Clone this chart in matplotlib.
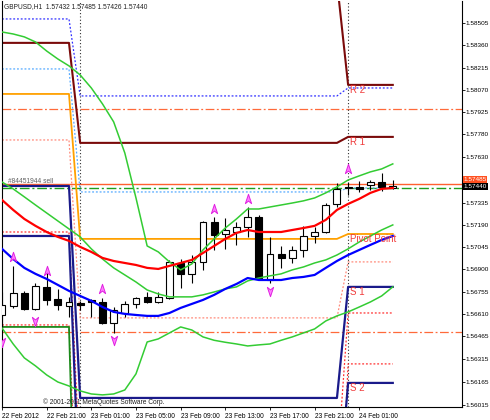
import matplotlib
matplotlib.use('Agg')
import matplotlib.pyplot as plt
from matplotlib.path import Path
import matplotlib.transforms as mtransforms

plt.rcParams['font.family'] = ['Liberation Sans', 'DejaVu Sans']

# bars: hours from 23 Feb 00:00 (H1 GBPUSD)
hours = list(range(-7, 29))
opens = [1.56602, 1.56661, 1.56746, 1.56641, 1.56785, 1.56707, 1.56661, 1.56680,
         1.56700, 1.56687, 1.56550, 1.56615, 1.56674, 1.56720, 1.56687, 1.56713,
         1.56941, 1.56870, 1.56948, 1.57209, 1.57130, 1.57143, 1.57176, 1.57241,
         1.56830, 1.57000, 1.56974, 1.57026, 1.57117, 1.57143, 1.57326, 1.57437,
         1.57437, 1.57450, 1.57469, 1.57432]
highs = [1.56752, 1.56922, 1.56759, 1.56811, 1.56876, 1.56772, 1.56720, 1.56694,
         1.56707, 1.56713, 1.56654, 1.56694, 1.56720, 1.56752, 1.56752, 1.56961,
         1.56967, 1.56993, 1.57215, 1.57241, 1.57235, 1.57209, 1.57306, 1.57254,
         1.57111, 1.57052, 1.57052, 1.57183, 1.57176, 1.57332, 1.57463, 1.57469,
         1.57476, 1.57482, 1.57528, 1.57485]
lows = [1.56485, 1.56648, 1.56635, 1.56635, 1.56667, 1.56635, 1.56589, 1.56635,
        1.56589, 1.56544, 1.56485, 1.56589, 1.56648, 1.56680, 1.56680, 1.56707,
        1.56778, 1.56811, 1.56896, 1.57026, 1.57033, 1.57059, 1.57111, 1.56830,
        1.56811, 1.56909, 1.56941, 1.56980, 1.57072, 1.57137, 1.57306, 1.57385,
        1.57404, 1.57417, 1.57411, 1.57426]
closes = [1.56667, 1.56746, 1.56641, 1.56791, 1.56700, 1.56667, 1.56687, 1.56667,
          1.56687, 1.56550, 1.56635, 1.56674, 1.56713, 1.56687, 1.56720, 1.56948,
          1.56870, 1.56948, 1.57209, 1.57124, 1.57156, 1.57176, 1.57241, 1.56843,
          1.57000, 1.56974, 1.57026, 1.57117, 1.57143, 1.57319, 1.57424, 1.57432,
          1.57424, 1.57469, 1.57437, 1.57440]

# moving averages and bollinger bands
ma_red = [1.57352, 1.57287, 1.57228, 1.57183, 1.57143, 1.57111, 1.57085, 1.57046,
          1.57013, 1.56974, 1.56954, 1.56941, 1.56928, 1.56909, 1.56902, 1.56922,
          1.56941, 1.56961, 1.57006, 1.57052, 1.57098, 1.57137, 1.57156, 1.57143,
          1.57143, 1.57143, 1.57156, 1.57169, 1.57183, 1.57222, 1.57287, 1.57326,
          1.57359, 1.57398, 1.57424, 1.57430]
ma_blue = [1.57033, 1.56967, 1.56909, 1.56870, 1.56837, 1.56798, 1.56759, 1.56726,
           1.56694, 1.56654, 1.56622, 1.56609, 1.56602, 1.56596, 1.56596, 1.56615,
           1.56648, 1.56674, 1.56700, 1.56733, 1.56772, 1.56804, 1.56843, 1.56830,
           1.56830, 1.56830, 1.56843, 1.56850, 1.56863, 1.56909, 1.56954, 1.56993,
           1.57026, 1.57059, 1.57091, 1.57117]
bb_upper = [1.58447, 1.58434, 1.58415, 1.58382, 1.58323, 1.58271, 1.58226, 1.58167,
            1.58082, 1.57978, 1.57861, 1.57658, 1.57365, 1.57052, 1.57013, 1.56948,
            1.56896, 1.56935, 1.57026, 1.57098, 1.57169, 1.57228, 1.57293, 1.57293,
            1.57306, 1.57319, 1.57332, 1.57346, 1.57365, 1.57398, 1.57437, 1.57482,
            1.57509, 1.57535, 1.57554, 1.57587]
bb_mid = [1.57469, 1.57424, 1.57372, 1.57319, 1.57267, 1.57215, 1.57163, 1.57111,
          1.57033, 1.56967, 1.56909, 1.56863, 1.56817, 1.56765, 1.56739, 1.56720,
          1.56720, 1.56720, 1.56733, 1.56752, 1.56772, 1.56785, 1.56824, 1.56843,
          1.56857, 1.56870, 1.56896, 1.56915, 1.56941, 1.56961, 1.56993, 1.57033,
          1.57078, 1.57117, 1.57156, 1.57189]
bb_lower = [1.56517, 1.56413, 1.56322, 1.56270, 1.56211, 1.56165, 1.56139, 1.56107,
            1.56087, 1.56081, 1.56087, 1.56113, 1.56218, 1.56426, 1.56446, 1.56485,
            1.56524, 1.56504, 1.56459, 1.56437, 1.56424, 1.56413, 1.56400, 1.56407,
            1.56413, 1.56437, 1.56459, 1.56485, 1.56511, 1.56563, 1.56596, 1.56622,
            1.56654, 1.56687, 1.56726, 1.56785]

# daily pivot levels: 22 Feb, 23 Feb, 24 Feb
day_of_bar = [0] * 7 + [1] * 24 + [2] * 5
r2_lv = [1.59178, 1.58775, 1.58102]
r1_lv = [1.58376, 1.57724, 1.57763]
pp_lv = [1.58043, 1.57098, 1.57130]
s1_lv = [1.57443, 1.56061, 1.56785]
s2_lv = [1.57117, 1.55300, 1.56159]
s3_lv = [1.56524, 1.54000, 1.55000]
m_blue_lv = [1.58532, 1.58030, 1.58082]
m_lblue_lv = [1.58206, 1.57404, 1.57430]
m_salmon_lv = [1.57743, 1.56583, 1.56948]
m_red1_lv = [1.57143, 1.55592, 1.56615]
m_red2_lv = [1.56537, 1.54744, 1.56283]

# full width lines
dashdot_lines = [1.57945, 1.56491]
order_price = 1.57427
high_line = 1.57456

# fractals
frac_up_h = [-6, -3, 2, 12, 15, 24]
frac_up_p = [1.56980, 1.56889, 1.56772, 1.57293, 1.57359, 1.57554]
frac_dn_h = [-7, -4, 3, 17]
frac_dn_p = [1.56426, 1.56563, 1.56437, 1.56759]

yticks = [1.58505, 1.58360, 1.58215, 1.58070, 1.57925, 1.57780, 1.57630, 1.57335,
          1.57190, 1.57045, 1.56900, 1.56755, 1.56610, 1.56465, 1.56315, 1.56165,
          1.56015]
xtick_h = [-7, -3, 1, 5, 9, 13, 17, 21, 25]
xtick_lab = ['22 Feb 2012', '22 Feb 21:00', '23 Feb 01:00', '23 Feb 05:00', '23 Feb 09:00',
             '23 Feb 13:00', '23 Feb 17:00', '23 Feb 21:00', '24 Feb 01:00']


def per_bar(levels):
    return [levels[d] for d in day_of_bar]


fig = plt.figure(figsize=(4.9, 4.2), dpi=100)
ax = fig.add_axes([2 / 490, 13 / 420, 460 / 490, 406 / 420])
ax.set_xlim(-6.98, 34.2)
ax.set_ylim(1.56002, 1.58649)

# full width horizontal lines
for p in dashdot_lines:
    ax.axhline(p, color='#FF6A3A', lw=0.9, ls=(0, (7, 2, 1.5, 2)), zorder=1)
ax.axhline(high_line, color='#FF6030', lw=1.0, zorder=1)
ax.axhline(order_price, color='#1E9E1E', lw=1.0, ls=(0, (7, 2, 1.5, 2)), zorder=1)

# day separators
for d in [0, 24]:
    ax.axvline(d, color='#303030', lw=0.8, ls=(0, (1, 2)), zorder=1)

# pivots
dot = (0, (1.5, 1.5))
ax.plot(hours, per_bar(m_blue_lv), color='#3030FF', lw=0.9, ls=dot, zorder=2)
ax.plot(hours, per_bar(m_lblue_lv), color='#55AAFF', lw=0.9, ls=dot, zorder=2)
ax.plot(hours, per_bar(m_salmon_lv), color='#FF8A7A', lw=0.9, ls=dot, zorder=2)
ax.plot(hours, per_bar(m_red1_lv), color='#FF3030', lw=0.9, ls=dot, zorder=2)
ax.plot(hours, per_bar(m_red2_lv), color='#FF3030', lw=0.9, ls=dot, zorder=2)
ax.plot(hours, per_bar(r2_lv), color='#7A0A0A', lw=1.5, zorder=2)
ax.plot(hours, per_bar(r1_lv), color='#7A0A0A', lw=1.5, zorder=2)
ax.plot(hours, per_bar(pp_lv), color='#FFA000', lw=1.3, zorder=2)
ax.plot(hours, per_bar(s1_lv), color='#1A1A8A', lw=1.6, zorder=2)
ax.plot(hours, per_bar(s2_lv), color='#1A1A8A', lw=1.6, zorder=2)
ax.plot(hours, per_bar(s3_lv), color='#1A8A1A', lw=1.3, zorder=2)

lab_kw = dict(color='#F03C3C', fontsize=7, va='top', ha='left', zorder=6)
ax.text(24.2, r2_lv[2], 'R 2', **lab_kw)
ax.text(24.2, r1_lv[2], 'R 1', **lab_kw)
ax.text(24.2, pp_lv[2], 'Pivot Point', **lab_kw)
ax.text(24.2, s1_lv[2], 'S 1', **lab_kw)
ax.text(24.2, s2_lv[2], 'S 2', **lab_kw)

# candles
for h, o, hi, lo, c in zip(hours, opens, highs, lows, closes):
    ax.vlines(h, lo, hi, color='black', lw=0.8, zorder=3)
    fc = 'white' if c >= o else 'black'
    ax.bar(h, max(abs(c - o), 0.00004), bottom=min(o, c), width=0.62,
           facecolor=fc, edgecolor='black', lw=0.8, zorder=3)

# indicators
ax.plot(hours, bb_upper, color='#33CC33', lw=1.1, zorder=4)
ax.plot(hours, bb_mid, color='#33CC33', lw=1.1, zorder=4)
ax.plot(hours, bb_lower, color='#33CC33', lw=1.1, zorder=4)
ax.plot(hours, ma_red, color='#FF0000', lw=1.6, zorder=4)
ax.plot(hours, ma_blue, color='#0000FF', lw=1.6, zorder=4)

up_arrow = Path([(0, 1), (-0.6, -0.8), (0, -0.3), (0.6, -0.8), (0, 1)],
                [Path.MOVETO, Path.LINETO, Path.LINETO, Path.LINETO, Path.CLOSEPOLY])
dn_arrow = Path([(0, -1), (-0.6, 0.8), (0, 0.3), (0.6, 0.8), (0, -1)],
                [Path.MOVETO, Path.LINETO, Path.LINETO, Path.LINETO, Path.CLOSEPOLY])
ax.plot(frac_up_h, frac_up_p, ls='none', marker=up_arrow, ms=7.5,
        mfc='#FF80FF', mec='#E020E0', mew=0.7, zorder=5)
ax.plot(frac_dn_h, frac_dn_p, ls='none', marker=dn_arrow, ms=7.5,
        mfc='#FF80FF', mec='#E020E0', mew=0.7, zorder=5)

# axes
for s in ['left', 'right', 'bottom']:
    ax.spines[s].set_color('black')
    ax.spines[s].set_linewidth(0.8)
ax.spines['top'].set_visible(False)
ax.yaxis.tick_right()
ax.set_yticks(yticks)
ax.set_yticklabels(['%.5f' % v for v in yticks])
ax.tick_params(axis='y', length=2, width=0.6, pad=0.6, labelsize=4.6)
ax.set_xticks(xtick_h)
ax.set_xticklabels(xtick_lab, ha='left')
ax.tick_params(axis='x', length=2.5, width=0.6, pad=1.5, labelsize=4.8)

blend = mtransforms.blended_transform_factory(ax.transAxes, ax.transData)
ax.text(1.003, 1.57485, '1.57485', transform=blend, fontsize=4.6, color='white', va='center',
        bbox=dict(boxstyle='square,pad=0.12', fc='#FF5020', ec='none'), clip_on=False)
ax.text(1.003, 1.57440, '1.57440', transform=blend, fontsize=4.6, color='white', va='center',
        bbox=dict(boxstyle='square,pad=0.15', fc='black', ec='none'), clip_on=False, zorder=7)

ax.text(-6.5, 1.57470, '#84451944 sell', fontsize=4.8, color='#606060', va='center', zorder=6)
fig.text(4 / 490, 1 - 7 / 420, 'GBPUSD,H1  1.57432 1.57485 1.57426 1.57440',
         fontsize=4.8, va='center', color='#202020')
fig.text(43 / 490, 1 - 402 / 420, '\u00a9 2001-2011 MetaQuotes Software Corp.',
         fontsize=4.8, va='center', color='#202020')

fig.savefig('out.png', dpi=100)
